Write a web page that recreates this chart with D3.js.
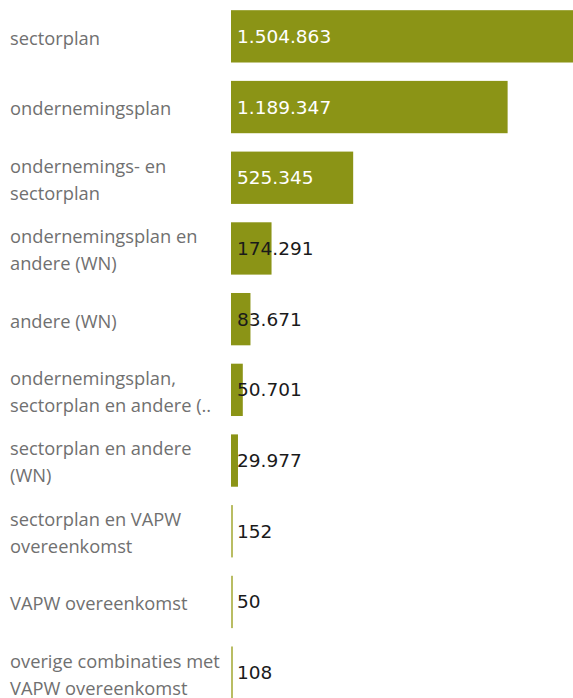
<!DOCTYPE html>
<html><head><meta charset="utf-8">
<script src="https://cdn.jsdelivr.net/npm/d3@7"></script>
<style>html,body{margin:0;padding:0;background:#fff;overflow:hidden}</style>
</head><body><svg id="c" width="573" height="698"></svg>
<script>
const categories = [
  ["sectorplan"],
  ["ondernemingsplan"],
  ["ondernemings- en", "sectorplan"],
  ["ondernemingsplan en", "andere (WN)"],
  ["andere (WN)"],
  ["ondernemingsplan,", "sectorplan en andere (.."],
  ["sectorplan en andere", "(WN)"],
  ["sectorplan en VAPW", "overeenkomst"],
  ["VAPW overeenkomst"],
  ["overige combinaties met", "VAPW overeenkomst"]
];
const values = [1504863, 1189347, 525345, 174291, 83671, 50701, 29977, 152, 50, 108];
const valueLabels = ["1.504.863","1.189.347","525.345","174.291","83.671","50.701","29.977","152","50","108"];

const svg = d3.select("#c");
const idx = d3.range(values.length);
const y = d3.scaleBand().domain(idx).range([1, 708]).paddingInner(0.26).paddingOuter(0.13);
const x = d3.scaleLinear().domain([0, d3.max(values)]).range([231, 581]);

const g = svg.selectAll("g.row").data(idx).join("g").attr("class","row");

g.append("rect")
  .attr("x", x(0))
  .attr("y", i => y(i))
  .attr("height", y.bandwidth())
  .attr("width", i => Math.max(2, x(values[i]) - x(0)))
  .attr("fill", i => (x(values[i]) - x(0)) < 2 ? "#b9bd63" : "#8b9416");

g.append("text")
  .attr("x", x(0) + 6)
  .attr("y", i => y(i) + y.bandwidth()/2)
  .attr("dy", "0.35em")
  .attr("font-family", "DejaVu Sans")
  .attr("font-size", 18.5)
  .attr("fill", i => i < 3 ? "#ffffff" : "#1a1a1a")
  .text(i => valueLabels[i]);

const lh = 27;
g.each(function(i){
  const lines = categories[i];
  const cy = y(i) + y.bandwidth()/2 + 2;
  const t = d3.select(this).append("text")
    .attr("font-family", "Open Sans")
    .attr("font-size", 18.3)
    .attr("fill", "#707070");
  lines.forEach((l, k) => {
    t.append("tspan").attr("x", 10)
      .attr("y", cy + (k - (lines.length-1)/2) * lh)
      .attr("dy", "0.35em")
      .text(l);
  });
});
</script></body></html>
